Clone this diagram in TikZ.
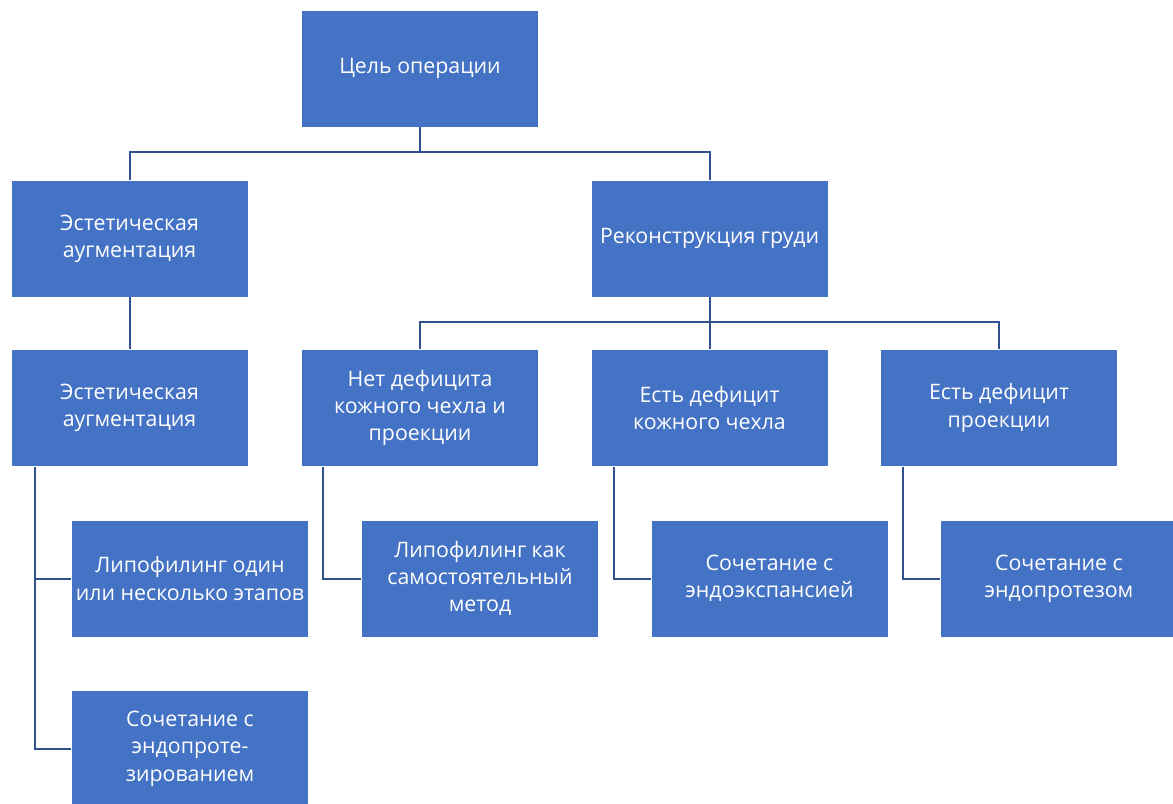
\documentclass[tikz,border=0pt]{standalone}
\usepackage{fontspec}
\setmainfont{Open Sans}
\definecolor{boxblue}{HTML}{4472C4}
\definecolor{lineblue}{HTML}{2F528F}

\begin{document}
\begin{tikzpicture}[x=0.75pt, y=-0.75pt,
  box/.style={fill=boxblue, draw=white, thin, text=white, minimum width=177.75pt, minimum height=87.75pt, align=center, font=\fontsize{16pt}{20.5pt}\selectfont},
  link/.style={draw=lineblue, line width=1.5pt}]
\useasboundingbox (0,0) rectangle (1173,803);
\clip (0,0) rectangle (1173,803);

\node (A) at (420,68.5) [box]{Цель операции};

\node (B) at (129.5,238.5) [box]{Эстетическая\\аугментация};
\node (C) at (709.5,238.5) [box]{Реконструкция груди};

\node (B-1) at (129.5,408) [box]{Эстетическая\\аугментация};
\node (C-1) at (420,408) [box]{Нет дефицита\\кожного чехла и\\проекции};
\node (C-2) at (709.5,408) [box]{Есть дефицит\\кожного чехла};
\node (C-3) at (999,408) [box]{Есть дефицит\\проекции};

\node (B-1-1) at (190,578.5) [box]{Липофилинг один\\или несколько этапов};
\node (B-1-2) at (190,748.5) [box]{Сочетание с\\эндопроте-\\зированием};
\node (C-1-1) at (480,578.5) [box]{Липофилинг как\\самостоятельный\\метод};
\node (C-2-1) at (769.5,578.5) [box]{Сочетание с\\эндоэкспансией};
\node (C-3-1) at (1059,578.5) [box]{Сочетание с\\эндопротезом};

\coordinate (A-j) at (420,152);
\coordinate (C-j) at (709.5,322);

\draw [link] (A) -- (A-j) -| (B);
\draw [link] (A-j) -| (C);
\draw [link] (B) -- (B-1);

\draw [link] (C) -- (C-j) -| (C-1);
\draw [link] (C-j) -- (C-2);
\draw [link] (C-j) -| (C-3);

\draw [link] ([xshift=18pt]B-1.south west) |- (B-1-1);
\draw [link] ([xshift=18pt]B-1.south west) |- (B-1-2);
\draw [link] ([xshift=16.5pt]C-1.south west) |- (C-1-1);
\draw [link] ([xshift=17.25pt]C-2.south west) |- (C-2-1);
\draw [link] ([xshift=17.25pt]C-3.south west) |- (C-3-1);

\end{tikzpicture}
\end{document}
